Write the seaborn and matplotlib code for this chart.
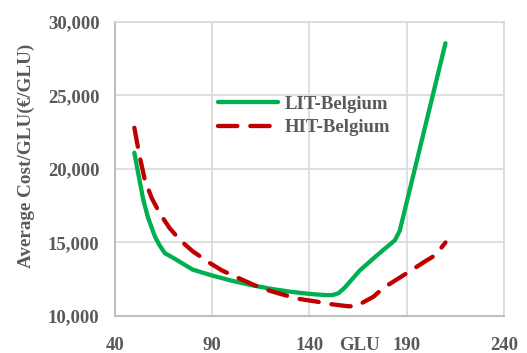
import pandas as pd
import numpy as np
import matplotlib
matplotlib.use("Agg")
import matplotlib.pyplot as plt
import seaborn as sns
from matplotlib.ticker import FuncFormatter

# LIT-Belgium (green, solid)
lit_x = [50, 52, 54.6, 57, 60.6, 63, 65.7, 70, 80, 90, 100, 110, 120, 130, 140, 148,
         152, 155, 158, 166, 175, 184, 186.5, 210]
lit_y = [21100, 19700, 17900, 16700, 15400, 14800, 14270, 13950, 13150, 12750, 12400,
         12100, 11850, 11650, 11500, 11420, 11420, 11550, 11900, 13100, 14150, 15150,
         15800, 28550]

# HIT-Belgium (dark red, dashed)
hit_x = [50, 52.5, 55.4, 59, 63, 68, 73.4, 80, 88.8, 95, 104, 115, 125, 135, 144, 150,
         156, 160, 164, 168, 173, 178, 190, 200, 205, 210]
hit_y = [22800, 21000, 19250, 18000, 17000, 16000, 15170, 14400, 13600, 13100, 12550,
         11900, 11500, 11150, 10970, 10820, 10720, 10660, 10650, 10950, 11310, 11900,
         12900, 13750, 14150, 15000]

x_ticks = [40, 90, 140, 190, 240]
y_ticks = [10000, 15000, 20000, 25000, 30000]

df = pd.concat([
    pd.DataFrame({"GLU": lit_x, "cost": lit_y, "series": "LIT-Belgium"}),
    pd.DataFrame({"GLU": hit_x, "cost": hit_y, "series": "HIT-Belgium"}),
])

sns.set_style("white")
plt.rcParams["font.family"] = ["Liberation Serif", "DejaVu Serif"]
plt.rcParams["font.weight"] = "bold"
txt = "#595959"

fig, ax = plt.subplots(figsize=(5.27, 3.53), dpi=100)
fig.subplots_adjust(left=0.218, right=0.956, top=0.938, bottom=0.105)

sns.lineplot(data=df, x="GLU", y="cost", hue="series", style="series", sort=False,
             palette={"LIT-Belgium": "#00B050", "HIT-Belgium": "#C00000"},
             dashes={"LIT-Belgium": "", "HIT-Belgium": (4.5, 3)},
             linewidth=3.1, ax=ax)
for ln in ax.get_lines():
    ln.set_solid_capstyle("round")
    ln.set_dash_capstyle("round")
    ln.set_solid_joinstyle("round")

ax.set_xlim(40, 240)
ax.set_ylim(10000, 30000)
ax.set_xticks(x_ticks)
ax.set_yticks(y_ticks)
ax.yaxis.set_major_formatter(FuncFormatter(lambda v, p: f"{int(v):,}"))
ax.grid(True, color="#D9D9D9", linewidth=1.2)
ax.tick_params(axis="both", length=0, labelsize=13.5, labelcolor=txt)
ax.tick_params(axis="x", pad=15)
ax.tick_params(axis="y", pad=11)
for s in ["left", "bottom"]:
    ax.spines[s].set_color("#BFBFBF")
    ax.spines[s].set_linewidth(1.5)
for s in ["top", "right"]:
    ax.spines[s].set_color("#D9D9D9")
    ax.spines[s].set_linewidth(1.2)

ax.set_ylabel("Average Cost/GLU(€/GLU)", fontsize=13.8, color=txt, fontweight="bold")
ax.yaxis.set_label_coords(-0.205, 0.544)
ax.set_xlabel("GLU", fontsize=13.5, color=txt, fontweight="bold")
ax.xaxis.set_label_coords(0.63, -0.07)

leg = ax.legend(loc="upper left", bbox_to_anchor=(0.245, 0.775), frameon=False,
                fontsize=13.5, handlelength=3.2, handletextpad=0.4,
                labelspacing=0.35, borderaxespad=0)
for t in leg.get_texts():
    t.set_color(txt)

fig.savefig("out.png", dpi=100)
